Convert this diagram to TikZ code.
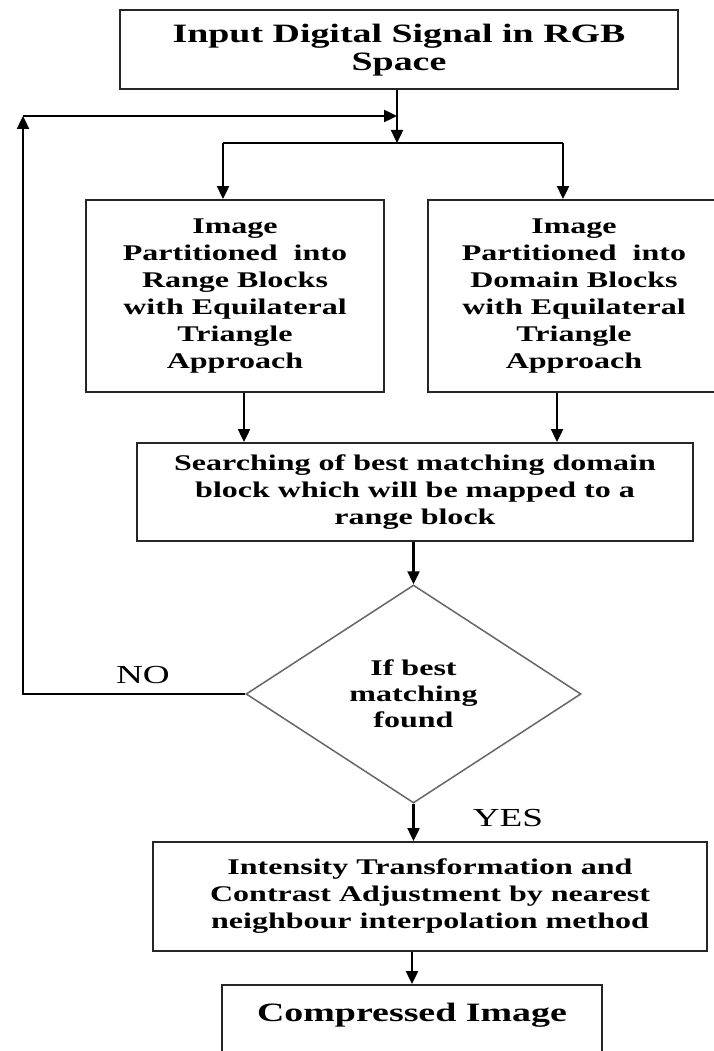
\documentclass[tikz,border=0pt]{standalone}
\usepackage{fontspec}
\setmainfont{Liberation Serif}[FakeStretch=1.43]
\usetikzlibrary{shapes.geometric,arrows.meta}
\begin{document}
\begin{tikzpicture}[x=1pt,y=-1pt,
  box/.style={draw=black!85,line width=2pt,rectangle,inner sep=0pt,align=center,
    font=\fontsize{22.4}{27}\selectfont\bfseries},
  bigbox/.style={box,font=\fontsize{26.5}{28}\selectfont\bfseries},
  decision/.style={draw=black!60,line width=1.5pt,diamond,inner sep=0pt,align=center,
    font=\fontsize{22.4}{26}\selectfont\bfseries},
  lbl/.style={font=\fontsize{26}{28}\selectfont,inner sep=0pt},
  conn/.style={line width=2.4pt,black},
  arr/.style={conn,-{Triangle[length=13pt,width=12pt]}}]
\clip (0,0) rectangle (714,1051);
\fill[white] (0,0) rectangle (714,1051);

\node[bigbox,minimum width=558pt,minimum height=79pt] (top) at (399,50)
  {Input Digital Signal in RGB\\Space};
\node[box,minimum width=298pt,minimum height=192pt] (left) at (235,296)
  {Image\\Partitioned\ \ into\\Range Blocks\\with Equilateral\\Triangle\\Approach};
\node[box,minimum width=292pt,minimum height=192pt] (right) at (574,296)
  {Image\\Partitioned\ \ into\\Domain Blocks\\with Equilateral\\Triangle\\Approach};
\node[box,minimum width=556pt,minimum height=98pt] (search) at (415,492)
  {Searching of best matching domain\\block which will be mapped to a\\range block};
\node[decision,minimum width=335pt,minimum height=218pt] (dia) at (413.5,694)
  {If best\\matching\\found};
\node[box,minimum width=554pt,minimum height=109pt] (int) at (430,896.5)
  {Intensity Transformation and\\Contrast Adjustment by nearest\\neighbour interpolation method};
\node[bigbox,anchor=north,minimum width=380pt,text height=36pt,text depth=90pt] (comp) at (412,984)
  {Compressed Image};

\node[lbl] (no) at (143,675) {NO};
\node[lbl] (yes) at (508,818) {YES};

\coordinate (j1) at (397,143);
\coordinate (bl) at (223,143);
\coordinate (br) at (563,143);
\coordinate (lc) at (23,116);
\coordinate (lj) at (397,116);

\draw[arr] (top.south -| j1) -- (j1);
\draw[conn] (bl) -- (br);
\draw[arr] (bl) -- (bl |- left.north);
\draw[arr] (br) -- (br |- right.north);
\draw[arr] ([xshift=9pt]left.south) -- ([xshift=9pt]left.south |- search.north);
\draw[arr] ([xshift=-17pt]right.south) -- ([xshift=-17pt]right.south |- search.north);
\draw[arr] (search.south -| dia.north) -- (dia.north);
\draw[arr] (dia.west) -| (lc);
\draw[arr] (lc) -- (lj);
\draw[arr] (dia.south) -- (dia.south |- int.north);
\draw[arr] (int.south -| comp.north) -- (comp.north);
\end{tikzpicture}
\end{document}
